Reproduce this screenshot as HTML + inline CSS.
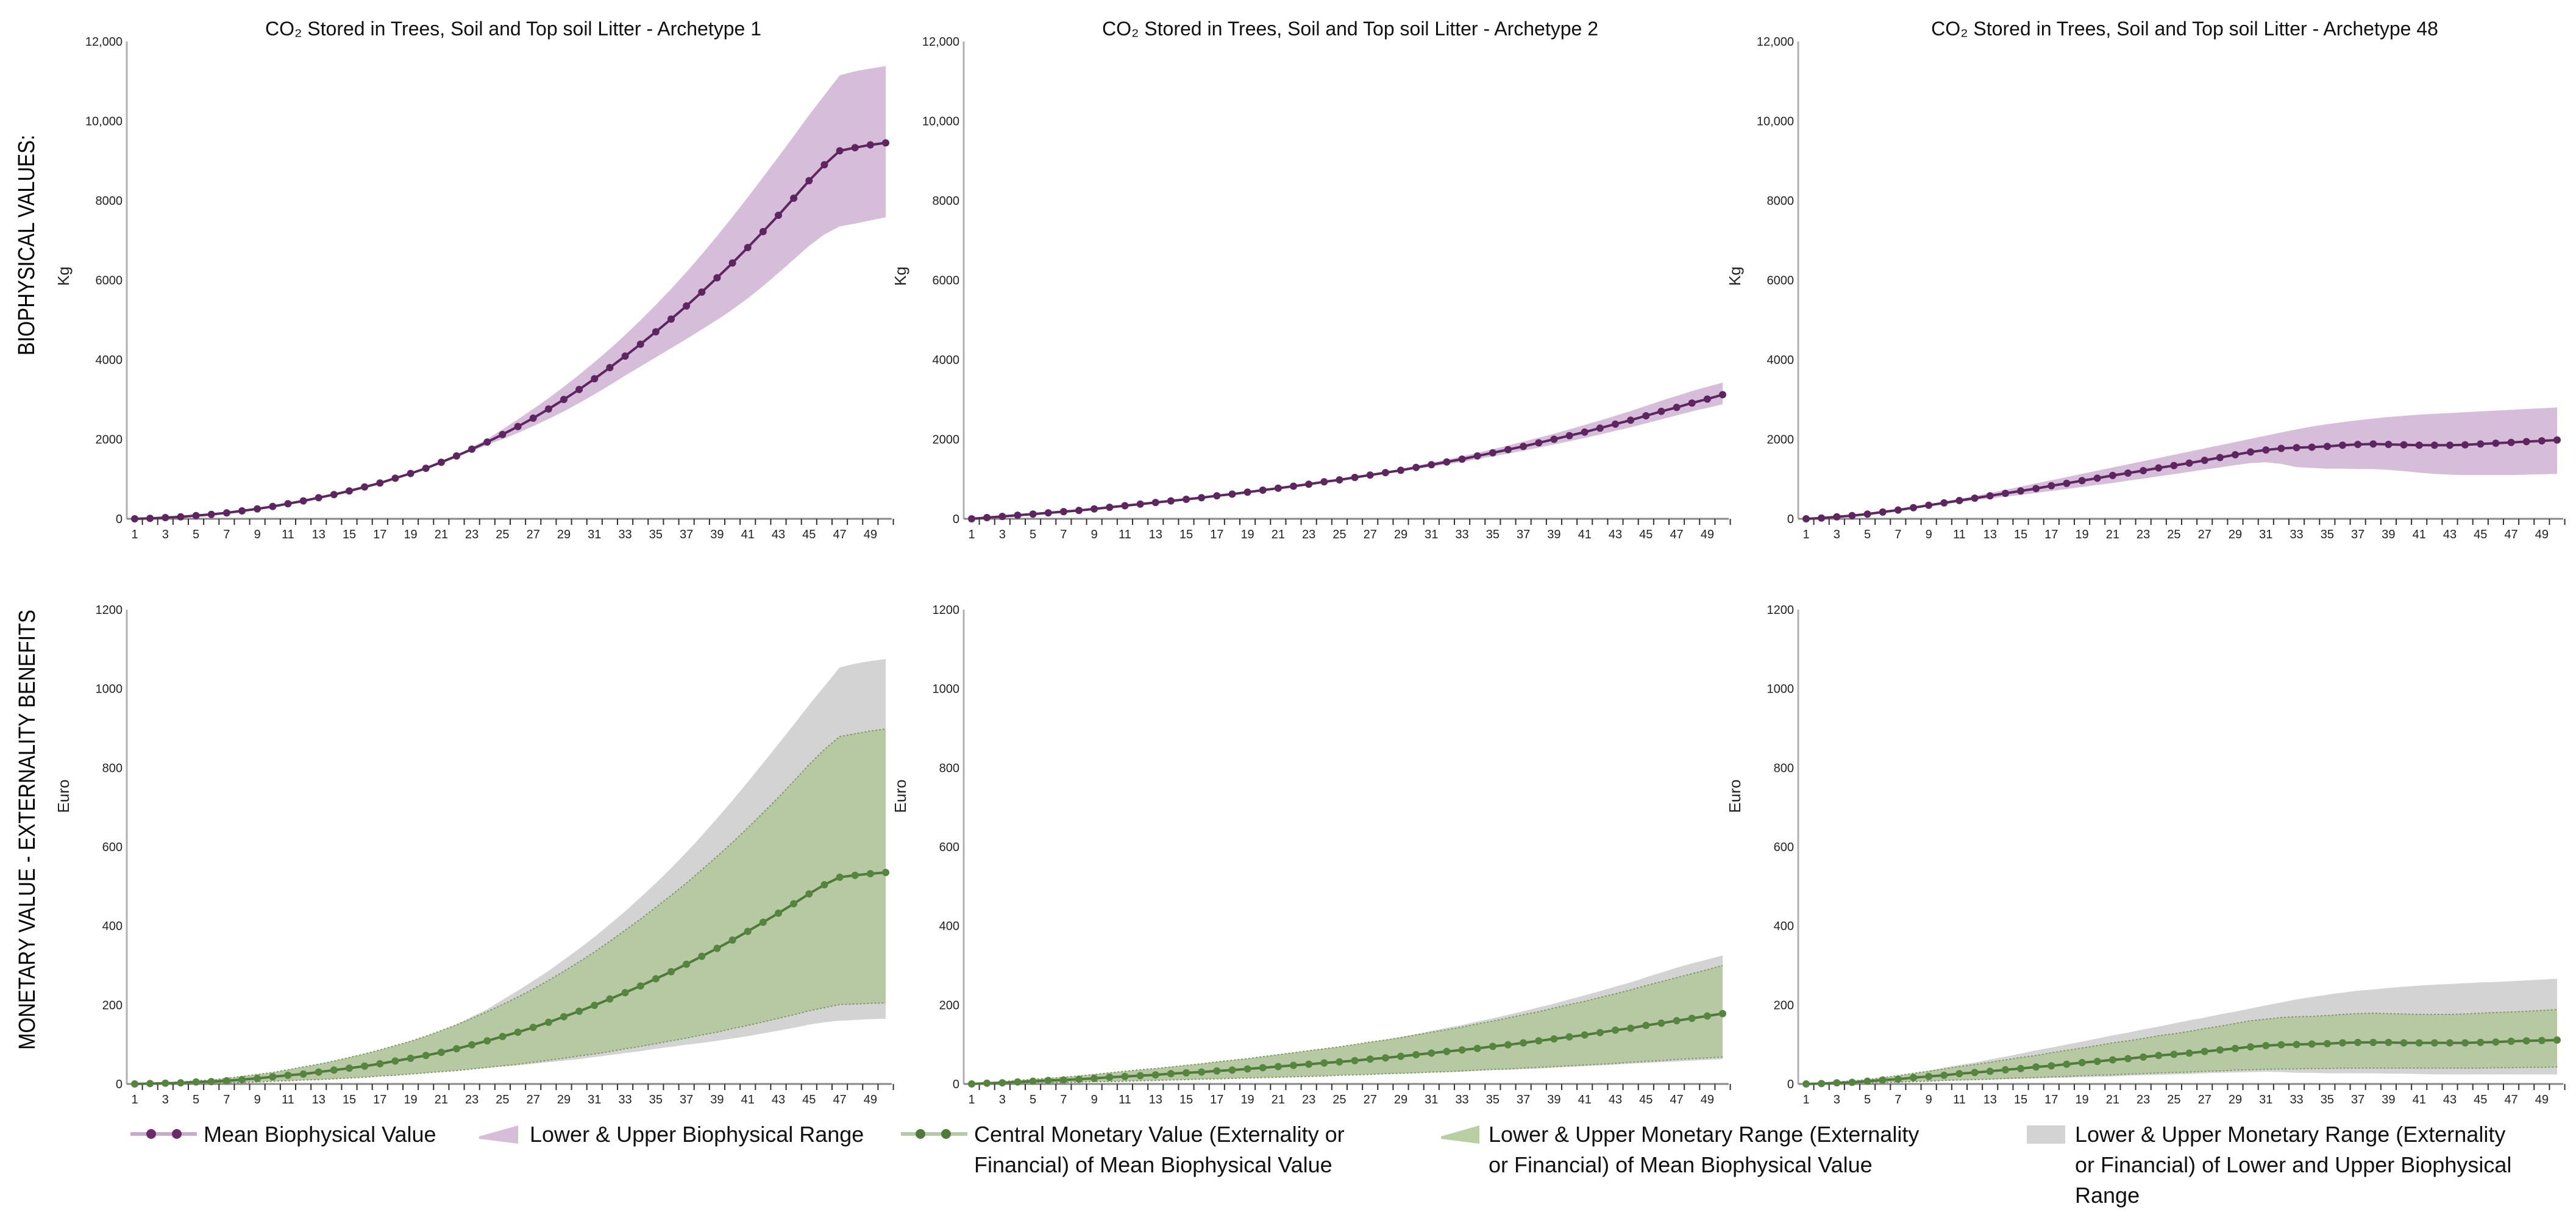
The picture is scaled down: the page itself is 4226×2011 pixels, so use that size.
<!DOCTYPE html>
<html><head><meta charset="utf-8">
<style>
html,body{margin:0;padding:0;background:#fff;}
svg{display:block;font-family:"Liberation Sans",sans-serif;}
.tk{font-size:20px;fill:#222;}
.ttl{font-family:"Liberation Sans Narrow","Liberation Sans",sans-serif;font-size:32px;fill:#111;}
.lg{font-family:"Liberation Sans Narrow","Liberation Sans",sans-serif;font-size:36px;fill:#111;}
</style></head>
<body>
<svg id="chart" width="4226" height="2011" viewBox="0 0 4226 2011" xmlns="http://www.w3.org/2000/svg">
<text x="46" y="402" transform="rotate(-90 46 402)" text-anchor="middle" dominant-baseline="middle" font-size="38" textLength="362" lengthAdjust="spacingAndGlyphs">BIOPHYSICAL VALUES:</text>
<text x="47" y="1361" transform="rotate(-90 47 1361)" text-anchor="middle" dominant-baseline="middle" font-size="38" textLength="722" lengthAdjust="spacingAndGlyphs">MONETARY VALUE - EXTERNALITY BENEFITS</text>
<g id="legend">
  <g>
    <line x1="214" y1="1860" x2="323" y2="1860" stroke="#c9aacb" stroke-width="6"/>
    <circle cx="248" cy="1860" r="8" fill="#6b2a6b"/><circle cx="290" cy="1860" r="8" fill="#6b2a6b"/>
    <text class="lg" x="334" y="1873">Mean Biophysical Value</text>
  </g>
  <g>
    <polygon points="786,1864 850,1846 850,1876 786,1868" fill="#d6bedb"/>
    <text class="lg" x="869" y="1873">Lower &amp; Upper Biophysical Range</text>
  </g>
  <g>
    <line x1="1478" y1="1860" x2="1587" y2="1860" stroke="#b8c9a8" stroke-width="6"/>
    <circle cx="1510" cy="1860" r="8" fill="#4e7a3a"/><circle cx="1552" cy="1860" r="8" fill="#4e7a3a"/>
    <text class="lg" x="1598" y="1873">Central Monetary Value (Externality or</text>
    <text class="lg" x="1598" y="1923">Financial) of Mean Biophysical Value</text>
  </g>
  <g>
    <polygon points="2364,1864 2427,1846 2427,1876 2364,1868" fill="#b8cfa3"/>
    <text class="lg" x="2442" y="1873">Lower &amp; Upper Monetary Range (Externality</text>
    <text class="lg" x="2442" y="1923">or Financial) of Mean Biophysical Value</text>
  </g>
  <g>
    <rect x="3325" y="1846" width="63" height="30" fill="#d3d3d3"/>
    <text class="lg" x="3404" y="1873">Lower &amp; Upper Monetary Range (Externality</text>
    <text class="lg" x="3404" y="1923">or Financial) of Lower and Upper Biophysical</text>
    <text class="lg" x="3404" y="1973">Range</text>
  </g>
</g>
</svg>
<script>
const years = Array.from({length:50},(_,i)=>i+1);
const titles = ["Archetype 1","Archetype 2","Archetype 48"];
const kgTicks = [0,2000,4000,6000,8000,10000,12000];
const kgTickLabels = ["0","2000","4000","6000","8000","10,000","12,000"];
const euroTicks = [0,200,400,600,800,1000,1200];
const euroTickLabels = ["0","200","400","600","800","1000","1200"];

const mean1 = [0,10,30,50,80,110,150,200,250,310,380,450,530,610,700,800,900,1020,1140,1270,1420,1580,1750,1930,2120,2320,2530,2760,3000,3250,3520,3800,4090,4390,4700,5020,5350,5700,6060,6430,6820,7220,7630,8060,8500,8900,9250,9330,9400,9450];
const upper1 = [0,10,30,50,80,110,150,200,250,310,380,450,530,610,700,800,900,1020,1140,1270,1420,1580,1800,2000,2250,2500,2760,3030,3320,3620,3940,4270,4620,4990,5380,5780,6200,6650,7110,7590,8080,8590,9100,9620,10150,10650,11150,11250,11320,11380];
const lower1 = [0,10,30,50,80,110,150,200,250,310,380,450,530,610,700,800,900,1020,1140,1270,1420,1580,1700,1860,2000,2160,2330,2510,2700,2910,3130,3360,3600,3830,4060,4290,4520,4760,5000,5260,5540,5850,6180,6520,6860,7150,7350,7420,7500,7580];

const mean2 = [0,30,60,90,120,150,180,210,250,290,330,370,410,450,490,530,580,620,670,720,770,820,870,930,980,1040,1100,1160,1220,1290,1360,1430,1500,1580,1660,1740,1820,1910,2000,2090,2180,2280,2380,2480,2590,2700,2800,2910,3010,3120];
const upper2 = [0,30,60,90,120,150,180,210,250,290,330,370,410,450,490,530,580,620,670,720,770,820,870,930,980,1040,1100,1180,1250,1330,1410,1490,1570,1660,1750,1840,1940,2040,2140,2250,2360,2470,2590,2710,2840,2970,3090,3210,3320,3420];
const lower2 = [0,30,60,90,120,150,180,210,250,290,330,370,410,450,490,530,580,620,670,720,770,820,870,930,980,1040,1100,1140,1190,1250,1310,1370,1430,1500,1570,1640,1710,1790,1870,1950,2030,2120,2210,2300,2400,2500,2600,2700,2790,2880];

const mean3 = [0,20,50,80,120,170,220,280,340,400,460,520,580,640,700,760,830,890,960,1020,1090,1150,1210,1280,1340,1400,1470,1540,1610,1680,1730,1770,1790,1800,1820,1850,1870,1880,1870,1860,1850,1850,1850,1860,1880,1900,1920,1940,1960,1980];
const upper3 = [0,20,50,80,120,170,220,280,360,430,500,570,650,730,810,890,970,1050,1130,1210,1290,1370,1450,1530,1610,1690,1770,1850,1930,2010,2090,2170,2250,2320,2380,2430,2480,2520,2560,2590,2620,2640,2660,2680,2700,2720,2740,2760,2780,2800];
const lower3 = [0,20,50,80,120,170,220,280,320,370,420,470,510,560,600,650,700,750,800,850,900,960,1010,1070,1120,1180,1240,1290,1350,1400,1420,1380,1300,1280,1260,1260,1250,1250,1230,1200,1160,1130,1110,1100,1100,1100,1100,1110,1120,1130];

const central1 = [0,1,2,3,5,6,8,11,14,18,22,25,30,35,40,45,51,58,65,72,80,89,99,109,120,131,143,156,170,184,199,215,231,248,266,284,303,323,343,364,386,409,432,456,481,504,523,528,532,535];
const greenUp1 = [0,1,3,5,8,10,14,19,24,29,36,43,50,58,67,76,86,97,108,121,135,150,166,183,201,220,240,262,285,309,334,361,389,417,447,477,508,542,576,611,648,686,725,766,808,846,879,886,893,898];
const greenLo1 = [0,0,1,1,2,2,3,4,5,7,8,10,11,13,15,17,20,22,25,28,31,34,38,42,46,50,55,60,65,71,76,82,89,95,102,109,116,124,131,140,148,157,166,175,185,193,201,202,204,205];
const grayUp1 = [0,1,3,5,8,10,14,19,24,29,36,43,50,58,67,76,86,97,108,121,135,150,170,189,213,236,261,286,314,342,372,404,437,472,508,546,586,628,672,717,764,812,860,909,959,1006,1054,1063,1070,1075];
const grayLo1 = [0,0,1,1,2,2,3,4,5,7,8,10,11,13,15,17,20,22,25,28,31,34,37,41,44,47,51,55,59,63,68,73,78,83,89,94,99,104,109,115,121,128,135,142,150,156,160,162,164,165];

const central2 = [0,2,3,5,7,9,10,12,14,17,19,21,23,26,28,30,33,35,38,41,44,47,50,53,56,59,63,66,70,74,78,82,86,90,95,99,104,109,114,119,124,130,136,141,148,154,160,166,172,178];
const greenUp2 = [0,3,6,9,12,14,17,20,24,28,32,36,39,43,47,51,56,60,64,69,74,79,84,89,94,100,106,111,117,124,131,137,144,152,159,167,175,183,192,201,209,219,228,238,249,259,269,279,289,300];
const greenLo2 = [0,1,1,2,3,3,4,5,6,6,7,8,9,10,11,12,13,14,15,16,17,18,19,20,22,23,24,26,27,28,30,31,33,35,37,38,40,42,44,46,48,50,52,55,57,59,62,64,66,68];
const grayUp2 = [0,3,6,9,12,14,17,20,24,28,32,36,39,43,47,51,56,60,64,69,74,79,84,89,94,100,106,112,119,126,134,142,149,158,166,175,184,194,203,214,224,235,246,257,270,282,294,305,315,325];
const grayLo2 = [0,1,1,2,3,3,4,5,6,6,7,8,9,10,11,12,13,14,15,16,17,18,19,20,22,23,24,25,26,28,29,30,31,33,35,36,38,39,41,43,45,47,49,51,53,55,57,59,61,63];

const central3 = [0,1,3,4,7,10,12,16,19,22,26,29,32,36,39,43,46,50,54,57,61,64,68,72,75,78,82,86,90,94,97,99,100,101,102,104,105,105,105,104,104,104,104,104,105,106,108,109,110,111];
const greenUp3 = [0,2,5,8,11,16,21,27,32,38,44,49,55,61,67,72,79,85,91,97,104,109,115,122,127,133,140,146,153,160,164,168,170,171,173,176,178,179,178,177,176,176,176,177,179,181,182,184,186,188];
const greenLo3 = [0,0,1,2,3,4,5,6,7,9,10,11,12,14,15,16,18,19,21,22,23,25,26,28,29,30,32,33,35,36,37,38,38,39,39,40,40,40,40,40,40,40,40,40,40,41,41,42,42,43];
const grayUp3 = [0,2,5,8,11,16,21,27,34,41,48,54,62,69,77,85,92,100,107,115,123,130,138,145,153,161,168,176,183,191,199,206,214,220,226,231,236,239,243,246,249,251,253,255,257,258,260,262,264,266];
const grayLo3 = [0,0,1,2,3,4,5,6,7,8,9,10,11,12,13,14,15,16,17,18,19,21,22,23,24,25,27,28,29,30,31,30,28,28,27,27,27,27,26,26,25,24,24,24,24,24,24,24,24,24];

const NS = "http://www.w3.org/2000/svg";
const svg = document.getElementById("chart");
function mk(tag, attrs, parent){
  const e = document.createElementNS(NS, tag);
  for (const k in attrs) e.setAttribute(k, attrs[k]);
  (parent||svg).appendChild(e);
  return e;
}
const axisX = [208, 1581, 2950];
const plotW = 1255;
function xScale(p, yr){ return axisX[p] + 13 + (yr-1)*(1232/49); }
function yTop(v){ return 851 - v/12000*(851-68); }
function yBot(v){ return 1778 - v/1200*(1778-1000); }

function band(g, up, lo, ys, p, fill, name, dotted){
  let d = "";
  years.forEach((yr,i)=>{ d += (i?"L":"M") + xScale(p,yr).toFixed(1) + "," + ys(up[i]).toFixed(1); });
  for (let i=years.length-1;i>=0;i--) d += "L" + xScale(p,years[i]).toFixed(1) + "," + ys(lo[i]).toFixed(1);
  const path = mk("path",{d:d+"Z",fill:fill},g);
  
  
  if (dotted){
    [up,lo].forEach(arr=>{
      let dd="";
      years.forEach((yr,i)=>{ dd += (i?"L":"M") + xScale(p,yr).toFixed(1) + "," + ys(arr[i]).toFixed(1); });
      const l = mk("path",{d:dd,fill:"none",stroke:"#7f9a6a","stroke-width":2,"stroke-dasharray":"3 3"},g);
      
      
    });
  }
}
function line(g, arr, ys, p, color, mcolor, name){
  let d="";
  years.forEach((yr,i)=>{ d += (i?"L":"M") + xScale(p,yr).toFixed(1) + "," + ys(arr[i]).toFixed(1); });
  const l = mk("path",{d:d,fill:"none",stroke:color,"stroke-width":4},g);
  
  
  years.forEach((yr,i)=>{
    const c = mk("circle",{cx:xScale(p,yr).toFixed(1),cy:ys(arr[i]).toFixed(1),r:6,fill:mcolor},g);
    
    
  });
}
function axes(g, p, ys, y0, yTopPx, ticks, labels, unit, unitY){
  const ax = axisX[p];
  const a = mk("line",{x1:ax,y1:yTopPx,x2:ax,y2:y0,stroke:"#b0b0b0","stroke-width":3},g);
  
  
  const b = mk("line",{x1:ax,y1:y0,x2:ax+plotW,y2:y0,stroke:"#888","stroke-width":3},g);
  
  
  ticks.forEach((t,i)=>{
    const tx = mk("text",{x:ax-7,y:ys(t)+7,"text-anchor":"end",class:"tk"},g);
    tx.textContent = labels[i];
    
    
  });
  years.forEach(yr=>{
    const x = xScale(p,yr) + 1232/49/2;
    const tm = mk("line",{x1:x,y1:y0,x2:x,y2:y0+10,stroke:"#333","stroke-width":2},g);
    
    
    if (yr%2===1){
      const tx = mk("text",{x:xScale(p,yr),y:y0+32,"text-anchor":"middle",class:"tk"},g);
      tx.textContent = String(yr);
      
      
    }
  });
  const u = mk("text",{x:ax-95,y:unitY,transform:`rotate(-90 ${ax-95} ${unitY})`,"text-anchor":"middle","font-size":26,fill:"#222"},g);
  u.textContent = unit;
  
  
}

const bio = [[mean1,upper1,lower1],[mean2,upper2,lower2],[mean3,upper3,lower3]];
const mon = [[central1,greenUp1,greenLo1,grayUp1,grayLo1],[central2,greenUp2,greenLo2,grayUp2,grayLo2],[central3,greenUp3,greenLo3,grayUp3,grayLo3]];

for (let p=0;p<3;p++){
  const gt = mk("g",{});
  
  
  const t = mk("text",{x:axisX[p]+634,y:58,"text-anchor":"middle",class:"ttl"},gt);
  t.textContent = "CO\u2082 Stored in Trees, Soil and Top soil Litter  - " + titles[p];
  
  
  band(gt, bio[p][1], bio[p][2], yTop, p, "#d6bedb", "biophysical-range-band");
  axes(gt, p, yTop, 851, 68, kgTicks, kgTickLabels, "Kg", 453);
  line(gt, bio[p][0], yTop, p, "#5e2660", "#5e2660", "mean-biophysical");

  const gb = mk("g",{});
  
  
  band(gb, mon[p][3], mon[p][4], yBot, p, "#d3d3d3", "monetary-range-biophysical-bounds-band");
  band(gb, mon[p][1], mon[p][2], yBot, p, "#b7c9a2", "monetary-range-band", true);
  axes(gb, p, yBot, 1778, 1000, euroTicks, euroTickLabels, "Euro", 1306);
  line(gb, mon[p][0], yBot, p, "#4e7a3a", "#55853f", "central-monetary");
}
svg.appendChild(document.getElementById("legend"));
</script>
</body></html>
